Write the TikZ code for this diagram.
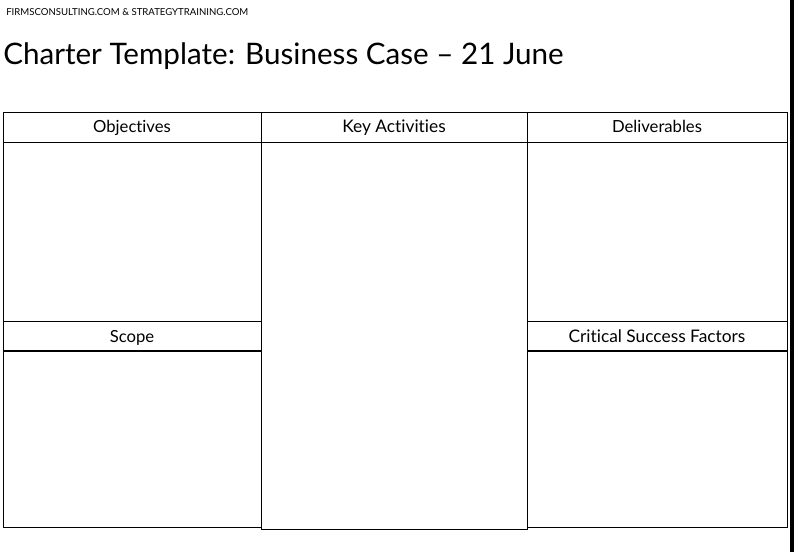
\documentclass[tikz,border=0pt]{standalone}
\usepackage{fontspec}
\setmainfont{Lato}[Ligatures=NoCommon]
\usetikzlibrary{positioning}

\tikzset{
  cell/.style={draw, line width=0.65pt, inner sep=0pt, outer sep=0pt, anchor=north west},
  head/.style={cell, minimum height=22.5pt, text height=10pt, text depth=1pt, font=\fontsize{12.5}{14}\selectfont},
}

\begin{document}
\begin{tikzpicture}[x=0.75pt,y=-0.75pt]
	\useasboundingbox (0,0) rectangle (799,552);
	% top lines
	\node [anchor=west, inner sep=0pt, font=\fontsize{7.2}{8}\selectfont] (site) at (6,12) {FIRMSCONSULTING.COM \& STRATEGYTRAINING.COM};
	\node [anchor=west, inner sep=0pt, font=\fontsize{22.2}{26}\selectfont] (title) at (3,56) {Charter Template: Business Case -- 21 June};

	% left column
	\node [head, minimum width=193.5pt] (objhead) at (3,112) {Objectives};
	\node [cell, minimum width=193.5pt, minimum height=134.25pt] (objbody) at (3,142) {};
	\node [head, minimum width=193.5pt] (scopehead) at (3,321) {Scope};
	\node [cell, minimum width=193.5pt, minimum height=132.75pt] (scopebody) at (3,350) {};

	% middle column
	\node [head, minimum width=199.5pt, font=\fontsize{13}{15}\selectfont] (acthead) at (261,112) {Key Activities};
	\node [cell, minimum width=199.5pt, minimum height=290.25pt] (actbody) at (261,142) {};

	% right column
	\node [head, minimum width=195pt] (delhead) at (527,112) {Deliverables};
	\node [cell, minimum width=195pt, minimum height=134.25pt] (delbody) at (527,142) {};
	\node [head, minimum width=195pt, font=\fontsize{13}{15}\selectfont] (csfhead) at (527,321) {Critical Success Factors};
	\node [cell, minimum width=195pt, minimum height=132.75pt] (csfbody) at (527,350) {};

	% edge of the scan
	\fill (789.5,0) rectangle (794,552);
\end{tikzpicture}
\end{document}
